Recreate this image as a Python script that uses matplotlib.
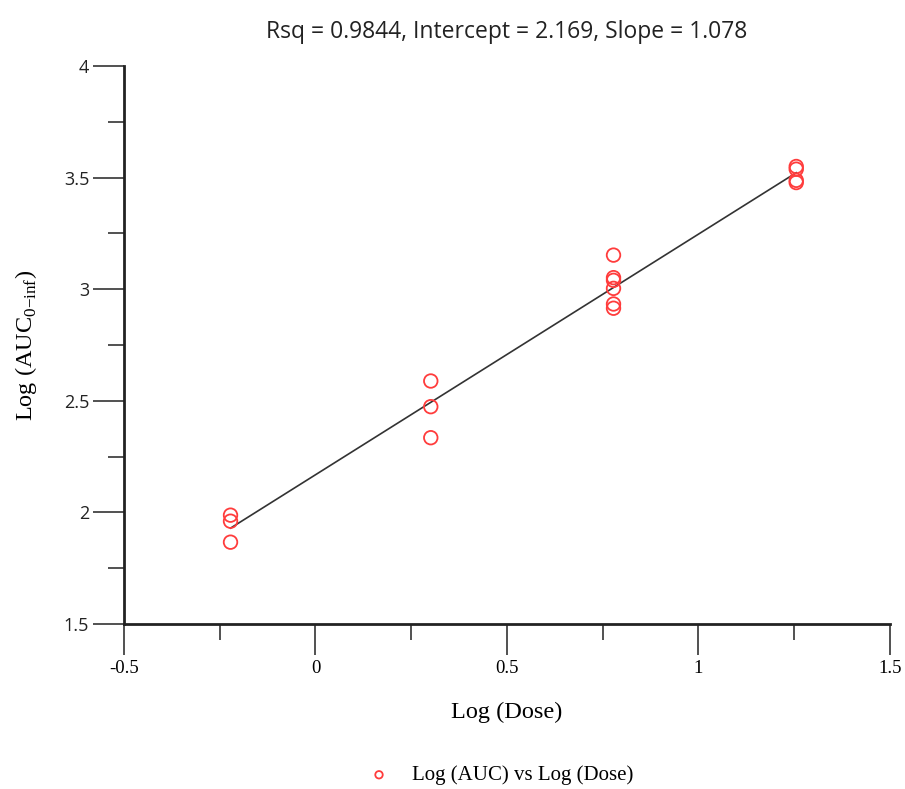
import numpy as np
import matplotlib.pyplot as plt
from matplotlib.ticker import MultipleLocator

# Dose levels and individual log AUC values per dose
dose = [0.6, 0.6, 0.6, 2, 2, 2, 6, 6, 6, 6, 6, 6, 18, 18, 18, 18]
log_auc = [1.988, 1.961, 1.867,
           2.589, 2.474, 2.335,
           3.153, 3.052, 3.040, 3.004, 2.934, 2.915,
           3.550, 3.538, 3.488, 3.478]

rsq = 0.9844
intercept = 2.169
slope = 1.078

log_dose = np.log10(dose)

plt.rcParams['mathtext.fontset'] = 'custom'
plt.rcParams['mathtext.rm'] = 'Liberation Serif'

fig = plt.figure(figsize=(9.05, 7.89), dpi=100)
ax = fig.add_axes([0.137, 0.209, 0.8464, 0.7073])

ax.scatter(log_dose, log_auc, s=95, facecolors='none', edgecolors='#ff3c3c',
           linewidths=1.3, label='Log (AUC) vs Log (Dose)', zorder=3)

# fitted line over the observed dose range
xfit = np.array([log_dose.min(), log_dose.max()])
ax.plot(xfit, intercept + slope * xfit, color='#333333', lw=1.2, zorder=2)

ax.set_xlim(-0.5, 1.5)
ax.set_ylim(1.5, 4)
ax.xaxis.set_major_locator(MultipleLocator(0.5))
ax.xaxis.set_minor_locator(MultipleLocator(0.25))
ax.yaxis.set_major_locator(MultipleLocator(0.5))
ax.yaxis.set_minor_locator(MultipleLocator(0.25))

for s in ['top', 'right']:
    ax.spines[s].set_visible(False)
for s in ['left', 'bottom']:
    ax.spines[s].set_linewidth(2.0)
    ax.spines[s].set_color('#222222')

ax.tick_params(which='major', length=22, width=1.1, color='#222222')
ax.tick_params(which='minor', length=11.5, width=1.1, color='#222222')
ax.tick_params(axis='x', labelsize=13.5, pad=4)
ax.tick_params(axis='y', labelsize=13, pad=3, labelcolor='#222222')
ax.set_xticks([-0.5, 0, 0.5, 1, 1.5])
ax.set_xticklabels(['-0.5', '0', '0.5', '1', '1.5'], family='Liberation Serif')
ax.set_yticks([1.5, 2, 2.5, 3, 3.5, 4])
ax.set_yticklabels(['1.5', '2', '2.5', '3', '3.5', '4'], family='Open Sans')

ax.set_xlabel('Log (Dose)', family='Liberation Serif', fontsize=17.5, labelpad=18)
ax.set_ylabel(r'Log (AUC$_{\mathrm{0{-}inf}}$)', family='Liberation Serif',
              fontsize=17.5, labelpad=18)
ax.set_title(f'Rsq = {rsq}, Intercept = {intercept}, Slope = {slope}',
             family='Open Sans', fontsize=16.5, pad=20, color='#222222')

fig.legend(loc='lower center', bbox_to_anchor=(0.548, -0.019), frameon=False,
           prop={'family': 'Liberation Serif', 'size': 15}, markerscale=0.55,
           handletextpad=0.6)

fig.savefig('out.png', dpi=100, facecolor='white')
